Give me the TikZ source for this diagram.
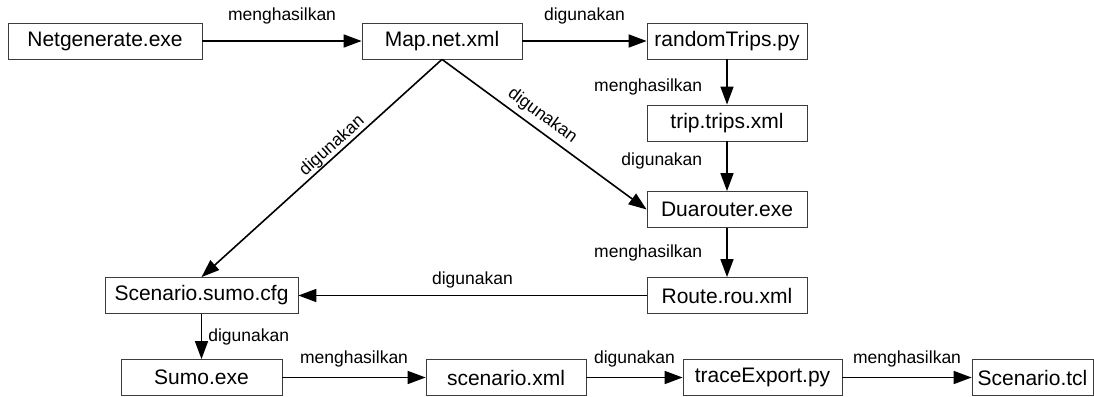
\documentclass[tikz,border=0pt]{standalone}
\usepackage{fontspec}
\setmainfont{Liberation Sans}
\usetikzlibrary{arrows.meta}
\definecolor{boxgray}{RGB}{60,60,60}
\tikzset{
  filebox/.style={draw=boxgray, line width=0.8pt, minimum height=36pt, inner sep=0pt, font=\fontsize{21}{25}\selectfont},
  flow/.style={line width=1.6pt, -{Triangle[length=18pt,width=13pt]}},
  lbl/.style={font=\fontsize{17.5}{21}\selectfont, inner sep=2pt}
}

\begin{document}
\begin{tikzpicture}[x=1pt,y=1pt]
\useasboundingbox (0,0) rectangle (1094,396);

\node[filebox, minimum width=194pt] (netgen) at (105,355) {Netgenerate.exe};
\node[filebox, minimum width=160pt] (mapnet) at (442,355) {Map.net.xml};
\node[filebox, minimum width=160pt] (rtrips) at (727,355) {randomTrips.py};
\node[filebox, minimum width=160pt] (trips) at (727,273) {trip.trips.xml};
\node[filebox, minimum width=160pt] (duar) at (727,186.5) {Duarouter.exe};
\node[filebox, minimum width=160pt] (route) at (727,100.5) {Route.rou.xml};
\node[filebox, minimum width=193pt] (scfg) at (201.5,100.5) {Scenario.sumo.cfg};
\node[filebox, minimum width=161pt] (sumo) at (201.5,18.5) {Sumo.exe};
\node[filebox, minimum width=160pt] (scen) at (506,18.5) {scenario.xml};
\node[filebox, minimum width=159pt] (trace) at (762.5,18.5) {traceExport.py};
\node[filebox, minimum width=121pt] (tcl) at (1032.5,18.5) {Scenario.tcl};

% top row
\draw[flow] (netgen) -- node[lbl, above=14pt] {menghasilkan} (mapnet);
\draw[flow] (mapnet) -- node[lbl, above=14pt] {digunakan} (rtrips);
% right column
\draw[flow] (rtrips) -- node[lbl, left=22pt, pos=0.6] {menghasilkan} (trips);
\draw[flow] (trips) -- node[lbl, left=22pt, pos=0.4] {digunakan} (duar);
\draw[flow] (duar) -- node[lbl, left=22pt] {menghasilkan} (route);
% diagonals
\draw[flow] (mapnet.south) -- node[lbl, sloped, above=-1.5pt, pos=0.43] {digunakan} (scfg.north);
\draw[flow] (mapnet.south) -- node[lbl, sloped, above=3pt, pos=0.45] {digunakan} (duar.west);
\draw[flow] (route) -- node[lbl, above=5pt] {digunakan} (scfg);
% bottom row
\draw[flow] (scfg) -- node[lbl, right=4pt] {digunakan} (sumo);
\draw[flow] (sumo) -- node[lbl, above=8pt] {menghasilkan} (scen);
\draw[flow] (scen) -- node[lbl, above=8pt] {digunakan} (trace);
\draw[flow] (trace) -- node[lbl, above=8pt] {menghasilkan} (tcl);
\end{tikzpicture}
\end{document}
